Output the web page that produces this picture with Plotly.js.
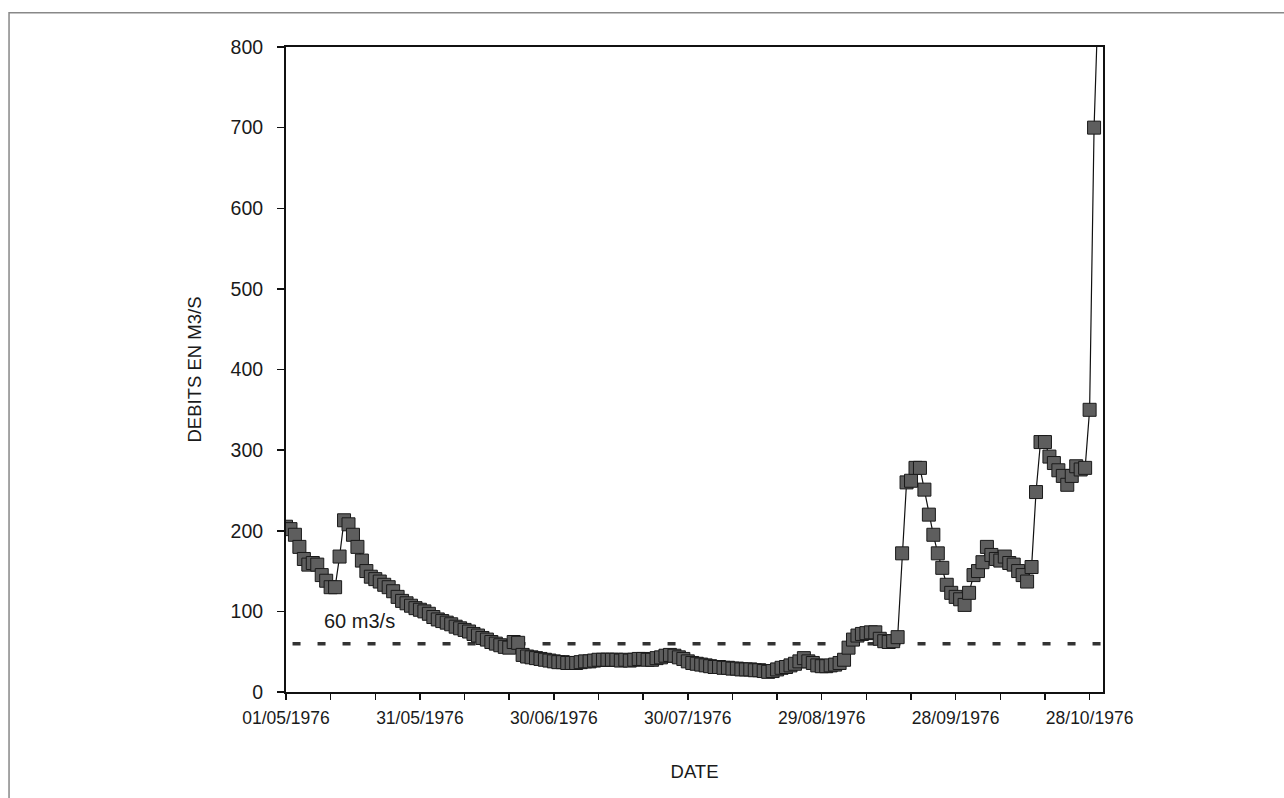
<!DOCTYPE html>
<html>
<head>
<meta charset="utf-8">
<script src="https://cdn.plot.ly/plotly-3.0.1.min.js"></script>
<style>html,body{margin:0;padding:0;background:#fff;}#chart{width:1284px;height:798px;}</style>
</head>
<body>
<div id="chart"></div>
<script>
// Daily discharge (m3/s), 1976, one value per day of each month
const MAY_1976 = [205,202,195,180,165,158,160,158,145,138,130,130,168,213,208,195,180,163,150,143,140,137,133,130,125,118,113,110,107,104,102];
const JUNE_1976 = [100,97,93,90,88,86,84,81,79,77,75,72,70,67,65,62,60,58,56,55,62,61,46,44,43,42,41,40,39,38];
const JULY_1976 = [37,37,36,36,36,37,38,38,39,40,40,40,40,40,39,40,39,40,41,41,40,40,42,43,45,46,45,43,41,38,36];
const AUGUST_1976 = [35,34,33,32,31,31,30,30,29,29,28,28,28,27,27,26,25,26,28,30,31,33,35,38,42,38,36,33,32,32,33];
const SEPTEMBER_1976 = [34,36,40,55,65,70,72,73,74,74,66,63,62,63,68,172,260,262,278,278,251,220,195,172,154,133,123,118,115,108];
const OCTOBER_1976 = [123,145,150,161,180,170,165,163,168,160,158,150,145,137,155,248,310,310,292,284,275,268,257,268,280,276,278,350,700,870];
const MONTHS = [["05", MAY_1976], ["06", JUNE_1976], ["07", JULY_1976], ["08", AUGUST_1976], ["09", SEPTEMBER_1976], ["10", OCTOBER_1976]];
const THRESHOLD = 60;
const THRESHOLD_LABEL = "60 m3/s";
const X_TITLE = "DATE";
const Y_TITLE = "DEBITS EN M3/S";

const dates = [], flows = [];
MONTHS.forEach(([m, vals]) => {
  vals.forEach((v, i) => {
    const d = String(i + 1).padStart(2, "0");
    dates.push(`1976-${m}-${d}`);
    flows.push(v);
  });
});

const DAY = 86400000;
const trace = {
  x: dates, y: flows, type: "scatter", mode: "lines+markers",
  line: {color: "#111", width: 1.2},
  marker: {symbol: "square", size: 13, color: "#5e5e5e", line: {color: "#1a1a1a", width: 1}},
  hoverinfo: "x+y", showlegend: false
};

const layout = {
  width: 1284, height: 798,
  margin: {l: 286, r: 181, t: 47, b: 106},
  paper_bgcolor: "#fff", plot_bgcolor: "#fff",
  font: {family: "Liberation Sans, Arial, sans-serif", color: "#1a1a1a"},
  xaxis: {
    type: "date", range: ["1976-05-01", "1976-10-31"],
    tick0: "1976-05-01", dtick: 30 * DAY, tickformat: "%d/%m/%Y",
    ticks: "outside", ticklen: 6, tickwidth: 1.5, tickcolor: "#111",
    minor: {tick0: "1976-05-01", dtick: 10 * DAY, ticks: "outside", ticklen: 6, tickwidth: 1.5, tickcolor: "#111", showgrid: false},
    showgrid: false, zeroline: false,
    showline: true, linecolor: "#111", linewidth: 2, mirror: true,
    tickfont: {size: 17.5}, ticklabelstandoff: 3,
    title: {text: X_TITLE, font: {size: 18.5}, standoff: 38}
  },
  yaxis: {
    range: [0, 800], tick0: 0, dtick: 100,
    ticks: "outside", ticklen: 7, tickwidth: 1.5, tickcolor: "#111",
    showgrid: false, zeroline: false,
    showline: true, linecolor: "#111", linewidth: 2, mirror: true,
    tickfont: {size: 19.5}, ticklabelstandoff: 10,
    title: {text: Y_TITLE, font: {size: 18.5}, standoff: 24}
  },
  shapes: [
    {type: "line", xref: "paper", x0: 0.008, x1: 1, yref: "y", y0: THRESHOLD, y1: THRESHOLD,
     line: {color: "#333", width: 3.5, dash: "8px,17px"}, layer: "below"},
    {type: "rect", xref: "paper", x0: -0.339, x1: 1.3, yref: "paper", y0: -0.2, y1: 1.0532,
     line: {color: "#888", width: 1.5}, fillcolor: "rgba(0,0,0,0)", layer: "below"}
  ],
  annotations: [
    {x: "1976-05-09", y: 88, xref: "x", yref: "y", xanchor: "left", yanchor: "middle",
     text: THRESHOLD_LABEL, showarrow: false, font: {size: 20, color: "#1a1a1a"}}
  ]
};

Plotly.newPlot("chart", [trace], layout, {displayModeBar: false, staticPlot: true});
</script>
</body>
</html>
